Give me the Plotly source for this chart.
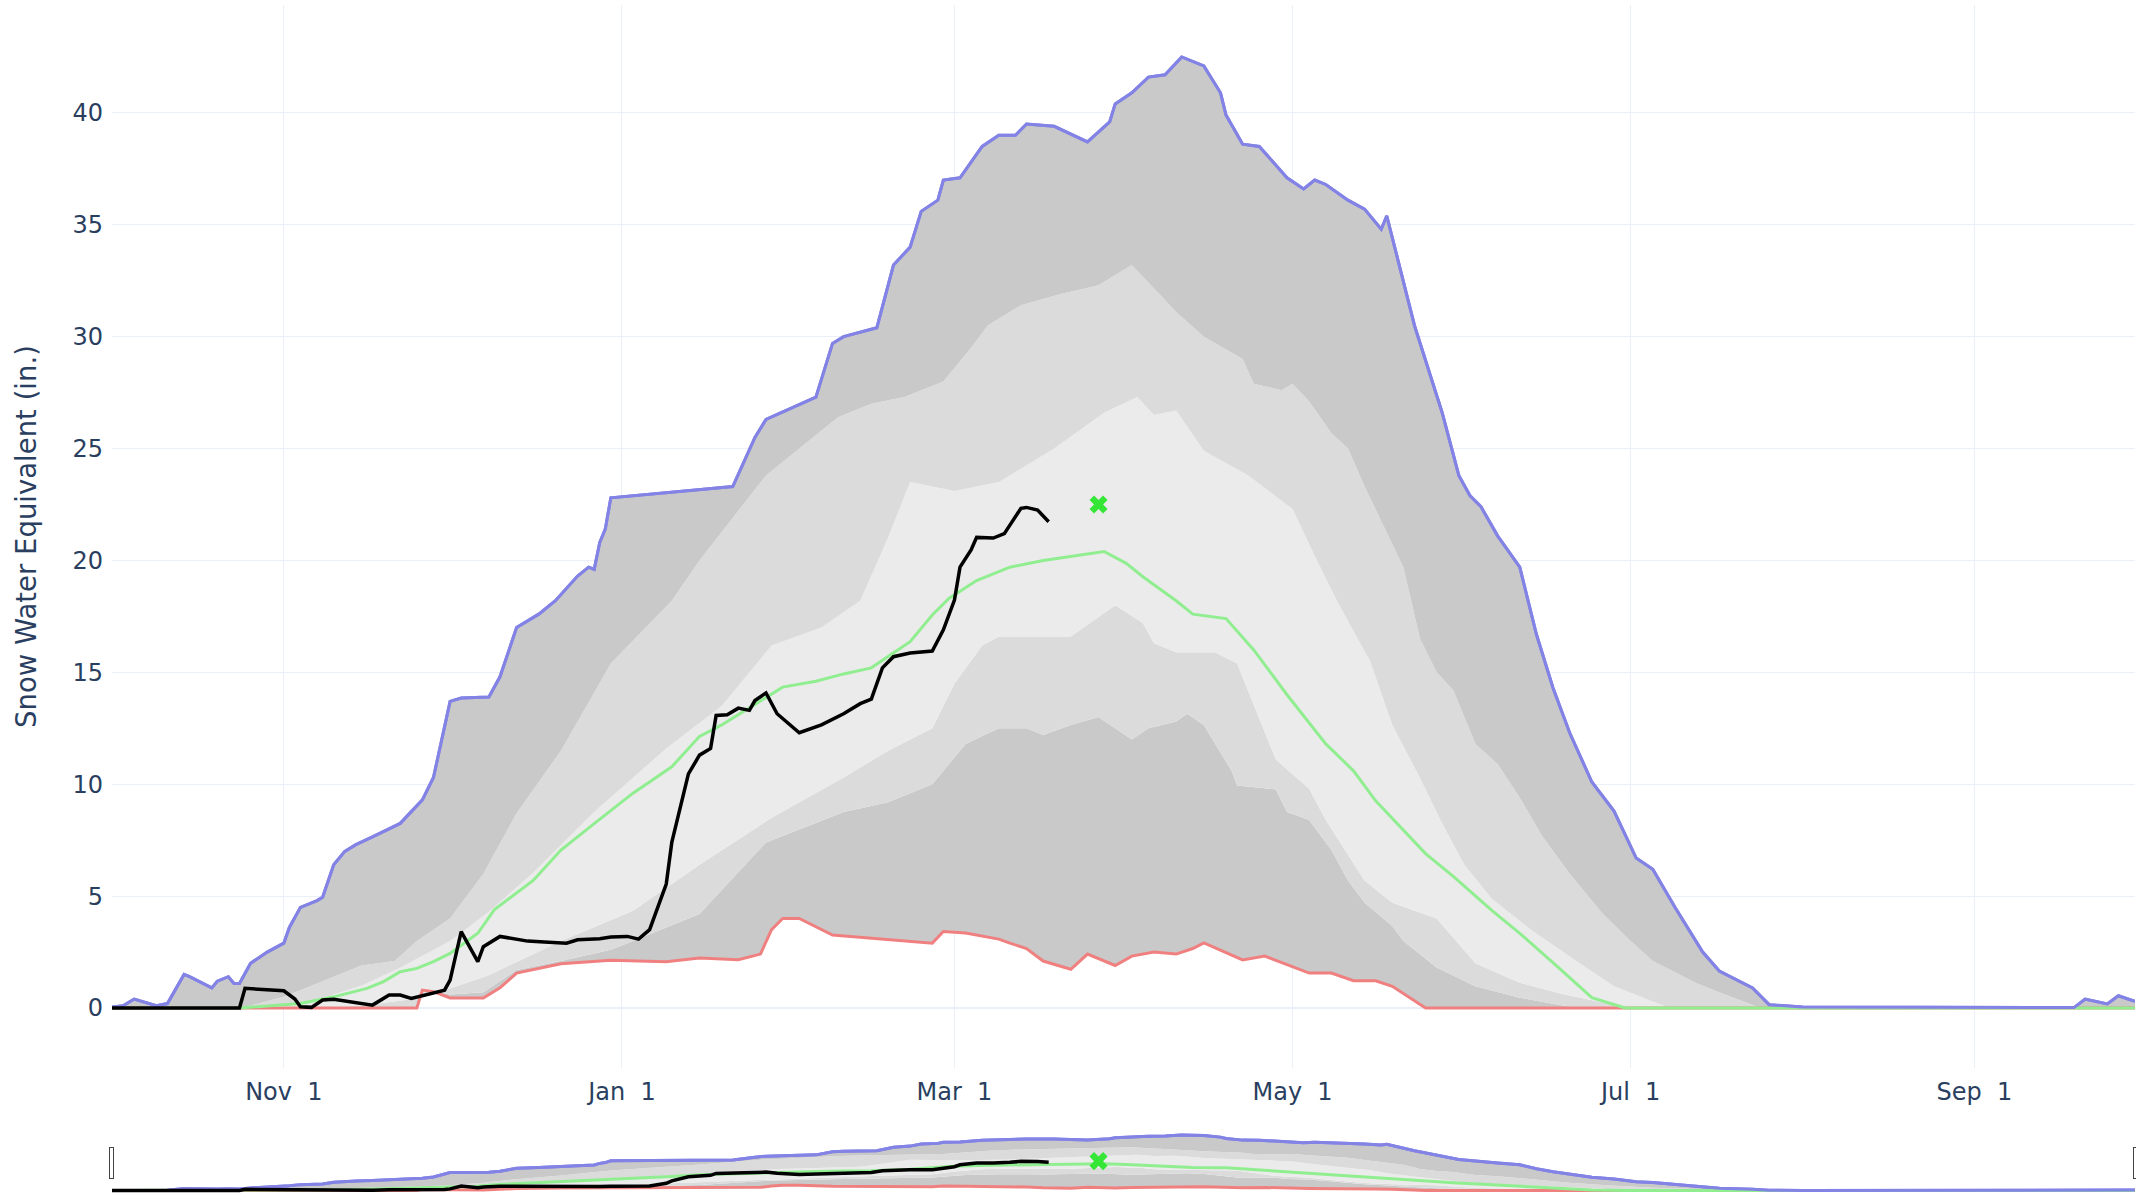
import pandas as pd
import plotly.graph_objects as go

START = pd.Timestamp("2023-10-01")

# ---- data (day offset from Oct 1, SWE inches) ----
max_days = [0, 2, 4, 8, 10, 13, 14, 18, 19, 21, 22, 23, 25, 28, 31, 32, 34, 37, 38, 40, 42, 44, 47, 52, 56, 58,
            61, 63, 68, 70, 73, 77, 80, 84, 86, 87, 88, 89, 90, 106, 112, 116, 118, 127, 130, 132, 138, 141, 144,
            146, 149, 150, 153, 157, 160, 163, 165, 170, 176, 180, 181, 184, 187, 190, 193, 197, 200, 201, 204,
            207, 212, 215, 217, 219, 223, 226, 229, 230, 235, 240, 243, 245, 247, 250, 254, 257, 260, 263, 267,
            271, 275, 278, 282, 287, 290, 296, 299, 305, 354, 356, 360, 362, 365]
max_vals = [0.05, 0.1, 0.4, 0.1, 0.2, 1.5, 1.4, 0.9, 1.2, 1.4, 1.1, 1.1, 2.0, 2.5, 2.9, 3.6, 4.5, 4.8, 4.95, 6.4,
            7.0, 7.3, 7.65, 8.25, 9.3, 10.3, 13.7, 13.85, 13.9, 14.8, 17.0, 17.6, 18.2, 19.3, 19.7, 19.6, 20.8,
            21.4, 22.8, 23.15, 23.3, 25.5, 26.3, 27.3, 29.7, 30.0, 30.4, 33.2, 34.0, 35.6, 36.1, 37.0, 37.1, 38.5,
            39.0, 39.0, 39.5, 39.4, 38.7, 39.6, 40.4, 40.9, 41.6, 41.7, 42.5, 42.1, 40.9, 39.9, 38.6, 38.5, 37.1,
            36.6, 37.0, 36.8, 36.1, 35.7, 34.8, 35.4, 30.5, 26.6, 23.8, 22.9, 22.4, 21.1, 19.7, 16.7, 14.3, 12.3,
            10.1, 8.8, 6.7, 6.2, 4.5, 2.5, 1.65, 0.9, 0.15, 0.05, 0.02, 0.4, 0.18, 0.55, 0.3]

p90_days = [0, 20, 25, 31, 35, 40, 45, 51, 55, 61, 67, 73, 81, 90, 101, 106, 118, 131, 137, 143, 150, 155, 158,
            164, 171, 178, 184, 189, 192, 197, 204, 206, 211, 213, 216, 220, 223, 226, 233, 236, 239, 242, 246,
            250, 254, 258, 263, 269, 274, 278, 286, 291, 297, 300, 365]
p90_vals = [0, 0, 0.1, 0.5, 0.9, 1.4, 1.9, 2.1, 3.0, 4.0, 6.0, 8.7, 11.5, 15.4, 18.2, 20.0, 23.8, 26.4, 27.0,
            27.3, 28.0, 29.5, 30.5, 31.4, 31.9, 32.3, 33.2, 31.9, 31.1, 30.0, 29.0, 27.9, 27.6, 27.9, 27.1, 25.7,
            25.0, 23.3, 19.7, 16.5, 15.0, 14.2, 11.8, 10.9, 9.4, 7.7, 6.0, 4.2, 3.0, 2.1, 1.1, 0.6, 0.05, 0, 0]

p70_days = [0, 25, 30, 36, 45, 52, 61, 68, 76, 87, 100, 110, 119, 128, 135, 140, 144, 152, 160, 170, 179, 185,
            188, 192, 197, 205, 213, 217, 221, 227, 231, 236, 240, 244, 249, 256, 264, 271, 278, 281, 365]
p70_vals = [0, 0, 0.1, 0.3, 1.0, 1.8, 3.0, 4.3, 6.05, 8.76, 11.6, 13.5, 16.2, 17.0, 18.2, 21.0, 23.5, 23.1,
            23.5, 25.0, 26.6, 27.3, 26.5, 26.7, 24.9, 23.8, 22.3, 20.2, 18.2, 15.5, 12.65, 10.28, 8.24, 6.4,
            4.87, 3.5, 2.14, 0.97, 0.29, 0, 0]

p30_days = [0, 35, 45, 56, 68, 81, 94, 106, 119, 132, 140, 148, 152, 157, 160, 173, 181, 186, 188, 192, 199,
            203, 210, 216, 219, 226, 231, 239, 246, 254, 262, 272, 275, 365]
p30_vals = [0, 0, 0.1, 0.46, 1.47, 3.0, 4.35, 6.4, 8.5, 10.3, 11.5, 12.5, 14.5, 16.2, 16.6, 16.6, 18.0, 17.2,
            16.3, 15.9, 15.9, 15.4, 11.1, 9.8, 8.4, 5.7, 4.7, 4.0, 2.0, 1.13, 0.6, 0.1, 0, 0]

p10_days = [0, 55, 56, 61, 67, 73, 81, 90, 94, 106, 118, 132, 140, 148, 154, 160, 165, 168, 173, 178, 184,
            187, 192, 194, 197, 202, 203, 210, 212, 216, 220, 223, 226, 231, 233, 239, 246, 254, 262, 265, 365]
p10_vals = [0, 0, 0.85, 0.6, 0.7, 1.7, 2.1, 2.6, 3.0, 4.2, 7.4, 8.76, 9.2, 10.0, 11.8, 12.5, 12.5, 12.2,
            12.65, 13.0, 12.0, 12.5, 12.8, 13.15, 12.65, 10.6, 9.94, 9.77, 8.76, 8.4, 7.06, 5.7, 4.7, 3.67, 3.0,
            1.81, 0.97, 0.46, 0.1, 0, 0]

min_days = [0, 55, 56, 58, 61, 67, 70, 73, 81, 90, 100, 106, 113, 117, 119, 121, 124, 130, 148, 150, 154, 160,
            162, 165, 168, 173, 176, 181, 184, 188, 192, 195, 197, 204, 208, 216, 220, 224, 228, 231, 237, 365]
min_vals = [0, 0, 0.8, 0.73, 0.45, 0.45, 0.9, 1.56, 1.98, 2.14, 2.07, 2.23, 2.16, 2.41, 3.5, 4.0, 4.0, 3.26,
            2.9, 3.42, 3.35, 3.08, 2.9, 2.66, 2.1, 1.73, 2.41, 1.9, 2.32, 2.5, 2.41, 2.66, 2.91, 2.15, 2.32, 1.56,
            1.56, 1.22, 1.22, 0.97, 0, 0]

med_days = [0, 23, 34, 37, 40, 46, 49, 52, 55, 58, 61, 66, 69, 76, 81, 87, 94, 101, 106, 110, 121, 127, 132,
            137, 144, 148, 151, 156, 162, 168, 173, 179, 183, 186, 192, 195, 201, 206, 212, 219, 224, 228, 237,
            242, 249, 254, 261, 267, 273, 365]
med_vals = [0, 0, 0.2, 0.36, 0.5, 0.88, 1.18, 1.62, 1.77, 2.07, 2.44, 3.34, 4.4, 5.7, 7.06, 8.24, 9.6, 10.78,
            12.14, 12.65, 14.34, 14.6, 14.93, 15.2, 16.37, 17.56, 18.3, 19.1, 19.7, 20.0, 20.17, 20.4, 19.87,
            19.27, 18.2, 17.6, 17.4, 16.0, 14.0, 11.8, 10.6, 9.26, 6.9, 5.88, 4.35, 3.34, 1.81, 0.46, 0, 0]

cur_days = [0, 23, 24, 31, 33, 34, 36, 38, 40, 43, 47, 50, 52, 54, 57, 60, 61, 63, 66, 67, 70, 75, 78, 82, 84,
            88, 90, 93, 95, 97, 100, 101, 104, 106, 108, 109, 111, 113, 115, 116, 118, 120, 124, 128, 132, 135,
            137, 139, 141, 144, 148, 150, 152, 153, 155, 156, 159, 161, 162, 164, 165, 167, 169]
cur_vals = [0, 0, 0.88, 0.77, 0.4, 0.06, 0.03, 0.36, 0.39, 0.28, 0.13, 0.58, 0.58, 0.43, 0.63, 0.8, 1.25, 3.41,
            2.07, 2.74, 3.2, 2.99, 2.95, 2.9, 3.05, 3.1, 3.17, 3.2, 3.08, 3.5, 5.54, 7.4, 10.46, 11.3, 11.6,
            13.07, 13.1, 13.4, 13.3, 13.74, 14.08, 13.15, 12.3, 12.65, 13.15, 13.6, 13.8, 15.2, 15.7, 15.86,
            15.95, 16.9, 18.23, 19.7, 20.47, 21.03, 21.0, 21.2, 21.58, 22.33, 22.37, 22.25, 21.73]

marker_days = [178]
marker_vals = [22.5]

X_RANGE = ["2023-10-01", "2024-09-30"]
TICK_FORMAT = "%b\u00a0\u00a0%-d"

DARK = "#c9c9c9"
MID = "#dbdbdb"
LIGHT = "#ebebeb"
FONT = "Verdana, DejaVu Sans, sans-serif"


def dates(days):
    return [START + pd.Timedelta(days=d) for d in days]


fig = go.Figure()
fig.add_trace(go.Scatter(x=dates(min_days), y=min_vals, mode="lines", line=dict(width=0, color=DARK),
                         hoverinfo="skip"))
fig.add_trace(go.Scatter(x=dates(p10_days), y=p10_vals, mode="lines", line=dict(width=0, color=DARK),
                         fill="tonexty", fillcolor=DARK, name="10%"))
fig.add_trace(go.Scatter(x=dates(p30_days), y=p30_vals, mode="lines", line=dict(width=0, color=MID),
                         fill="tonexty", fillcolor=MID, name="30%"))
fig.add_trace(go.Scatter(x=dates(p70_days), y=p70_vals, mode="lines", line=dict(width=0, color=LIGHT),
                         fill="tonexty", fillcolor=LIGHT, name="70%"))
fig.add_trace(go.Scatter(x=dates(p90_days), y=p90_vals, mode="lines", line=dict(width=0, color=MID),
                         fill="tonexty", fillcolor=MID, name="90%"))
fig.add_trace(go.Scatter(x=dates(max_days), y=max_vals, mode="lines", line=dict(width=3, color="#8383e6"),
                         fill="tonexty", fillcolor=DARK, name="Max"))
fig.add_trace(go.Scatter(x=dates(min_days), y=min_vals, mode="lines", line=dict(width=3, color="#f08080"),
                         name="Min"))
fig.add_trace(go.Scatter(x=dates(med_days), y=med_vals, mode="lines", line=dict(width=3, color="#90ee90"),
                         name="Median"))
fig.add_trace(go.Scatter(x=dates(max_days), y=max_vals, mode="lines", line=dict(width=3, color="#8383e6"),
                         name="Max line", hoverinfo="skip"))
fig.add_trace(go.Scatter(x=dates(cur_days), y=cur_vals, mode="lines", line=dict(width=3.5, color="black"),
                         name="WY2024"))
fig.add_trace(go.Scatter(x=dates(marker_days), y=marker_vals, mode="markers",
                         marker=dict(symbol="x", size=16, color="#36e636"), name="Peak"))
# empty trace that carries the label axis (same dates as the main axis)
fig.add_trace(go.Scatter(x=[], y=[], xaxis="x2", yaxis="y", showlegend=False, hoverinfo="skip"))

fig.update_layout(
    template="plotly_white",
    width=2136, height=1194,
    margin=dict(l=112, r=1, t=5, b=0),
    showlegend=False,
    font=dict(family=FONT, size=24, color="#2a3f5f"),
    xaxis=dict(type="date", range=X_RANGE, dtick="M2", tick0="2023-11-01",
               showticklabels=False, ticks="outside", ticklen=49, tickcolor="rgba(0,0,0,0)",
               rangeslider=dict(visible=True, thickness=0.052)),
    xaxis2=dict(type="date", range=X_RANGE, dtick="M2", tick0="2023-11-01", tickformat=TICK_FORMAT,
                overlaying="x", anchor="y", side="bottom", showgrid=False, zeroline=False,
                ticklabelstandoff=7),
    yaxis=dict(range=[-2.68, 44.82], dtick=5, ticklabelstandoff=8,
               title=dict(text="Snow Water Equivalent (in.)", font=dict(size=27.5), standoff=27)),
)

fig.write_html("out.html", config={"displayModeBar": False},
               post_script="document.body.style.margin='0';document.body.style.overflow='hidden';")
